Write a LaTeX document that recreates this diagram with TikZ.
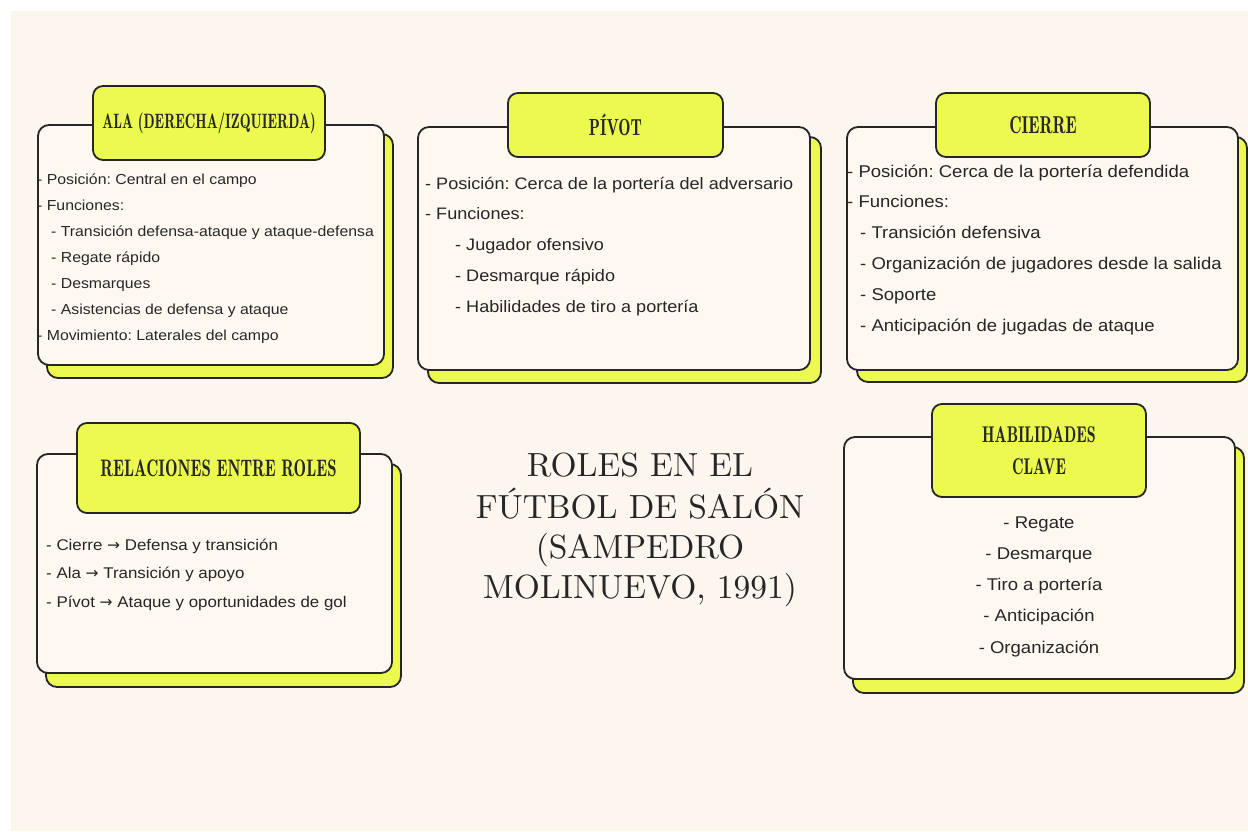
\documentclass[tikz,border=0pt]{standalone}
\usepackage{fontspec}
\setmainfont{Liberation Sans}[FakeStretch=1.09]
\newfontfamily\tabfont{lmromandemi10-regular.otf}[FakeStretch=0.7]
\newfontfamily\bigfont{lmroman10-regular.otf}
\newfontfamily\arrowfont{DejaVu Sans}
\newcommand\rarr{{\arrowfont →}}
\frenchspacing
\definecolor{bg}{HTML}{FDF6EF}
\definecolor{cardfill}{HTML}{FEF8F1}
\definecolor{lime}{HTML}{ECFA50}
\definecolor{ink}{HTML}{262626}
\tikzset{
  panel/.style={draw=ink, line width=1.8pt, rounded corners=11pt, inner sep=0pt, outer sep=0pt},
  shadowbox/.style={panel, fill=lime},
  cardbox/.style={panel, fill=cardfill},
  tabbox/.style={draw=ink, line width=1.8pt, rounded corners=10pt, fill=lime, inner sep=0pt, text=ink, align=center},
  bodytext/.style={inner sep=0pt, text=ink, anchor=base west},
  bodyc/.style={inner sep=0pt, text=ink, anchor=base},
  bigtitle/.style={inner sep=0pt, text=ink, anchor=base, font=\bigfont\fontsize{33.5}{40}\selectfont}
}
\begin{document}
\begin{tikzpicture}[x=1pt,y=-1pt]
\useasboundingbox (0,0) rectangle (1248,831);
\fill[white] (0,0) rectangle (1248,831);
\fill[bg] (11,11) rectangle (1248,831);

% ---- ALA ----
\node[shadowbox, minimum width=346pt, minimum height=244pt] (alaS) at (220,256) {};
\node[cardbox, minimum width=346pt, minimum height=240pt] (alaC) at (211,245) {};
\node[tabbox, minimum width=232pt, minimum height=74pt, font=\tabfont\fontsize{20.8}{22}\selectfont] (alaT) at (209,123) {ALA (DERECHA/IZQUIERDA)};
\foreach \dx/\yy/\txt [count=\i] in {
  37/179/{- Posición: Central en el campo},
  37/205/{- Funciones:},
  51/231/{- Transición defensa-ataque y ataque-defensa},
  51/257/{- Regate rápido},
  51/283/{- Desmarques},
  51/309/{- Asistencias de defensa y ataque},
  37/335/{- Movimiento: Laterales del campo}}
  \node[bodytext, font=\fontsize{14.5}{17}\selectfont] (ala\i) at (\dx,{\yy+5.2}) {\txt};

% ---- PIVOT ----
\node[shadowbox, minimum width=393pt, minimum height=246pt] (pivS) at (624.5,260) {};
\node[cardbox, minimum width=392pt, minimum height=243pt] (pivC) at (614,248.5) {};
\node[tabbox, minimum width=215pt, minimum height=64pt, font=\tabfont\fontsize{23.3}{24}\selectfont] (pivT) at (615.5,125) {PÍVOT};
\foreach \dx/\yy/\txt [count=\i] in {
  425/184/{- Posición: Cerca de la portería del adversario},
  425/214/{- Funciones:},
  455/245/{- Jugador ofensivo},
  455/276/{- Desmarque rápido},
  455/307/{- Habilidades de tiro a portería}}
  \node[bodytext, font=\fontsize{16.6}{19}\selectfont] (piv\i) at (\dx,{\yy+5.9}) {\txt};

% ---- CIERRE ----
\node[shadowbox, minimum width=390pt, minimum height=245pt] (cieS) at (1052,259.5) {};
\node[cardbox, minimum width=391pt, minimum height=243pt] (cieC) at (1042.5,248.5) {};
\node[tabbox, minimum width=214pt, minimum height=64pt, font=\tabfont\fontsize{24.4}{25}\selectfont] (cieT) at (1043,125) {CIERRE};
\foreach \dx/\yy/\txt [count=\i] in {
  847/171/{- Posición: Cerca de la portería defendida},
  847/201/{- Funciones:},
  860/232/{- Transición defensiva},
  860/263/{- Organización de jugadores desde la salida},
  860/294/{- Soporte},
  860/325/{- Anticipación de jugadas de ataque}}
  \node[bodytext, font=\fontsize{17}{20}\selectfont] (cie\i) at (\dx,{\yy+6}) {\txt};

% ---- RELACIONES ----
\node[shadowbox, minimum width=355pt, minimum height=223pt] (relS) at (223.5,575.5) {};
\node[cardbox, minimum width=355pt, minimum height=219pt] (relC) at (214.5,563.5) {};
\node[tabbox, minimum width=283pt, minimum height=90pt, font=\tabfont\fontsize{23.9}{25}\selectfont] (relT) at (218.5,468) {RELACIONES ENTRE ROLES};
\foreach \dx/\yy/\txt [count=\i] in {
  46/545/{- Cierre \rarr{} Defensa y transición},
  46/573/{- Ala \rarr{} Transición y apoyo},
  46/602/{- Pívot \rarr{} Ataque y oportunidades de gol}}
  \node[bodytext, font=\fontsize{15.5}{18}\selectfont] (rel\i) at (\dx,{\yy+5.5}) {\txt};

% ---- HABILIDADES ----
\node[shadowbox, minimum width=391pt, minimum height=246pt] (habS) at (1048.5,570) {};
\node[cardbox, minimum width=391pt, minimum height=242pt] (habC) at (1039.5,558) {};
\node[tabbox, minimum width=214pt, minimum height=93pt, font=\tabfont\fontsize{22.8}{32}\selectfont] (habT) at (1039,450.5) {HABILIDADES\\CLAVE};
\foreach \yy/\txt [count=\i] in {
  522/{- Regate},
  553/{- Desmarque},
  584/{- Tiro a portería},
  615/{- Anticipación},
  647/{- Organización}}
  \node[bodyc, font=\fontsize{17}{20}\selectfont] (hab\i) at (1039,{\yy+6}) {\txt};

% ---- Central title ----
\node[bigtitle] (t1) at (640,476.5) {ROLES EN EL};
\node[bigtitle] (t2) at (640,518.5) {FÚTBOL DE SALÓN};
\node[bigtitle] (t3) at (640,558.5) {(SAMPEDRO};
\node[bigtitle] (t4) at (640,598.5) {MOLINUEVO, 1991)};
\end{tikzpicture}
\end{document}
